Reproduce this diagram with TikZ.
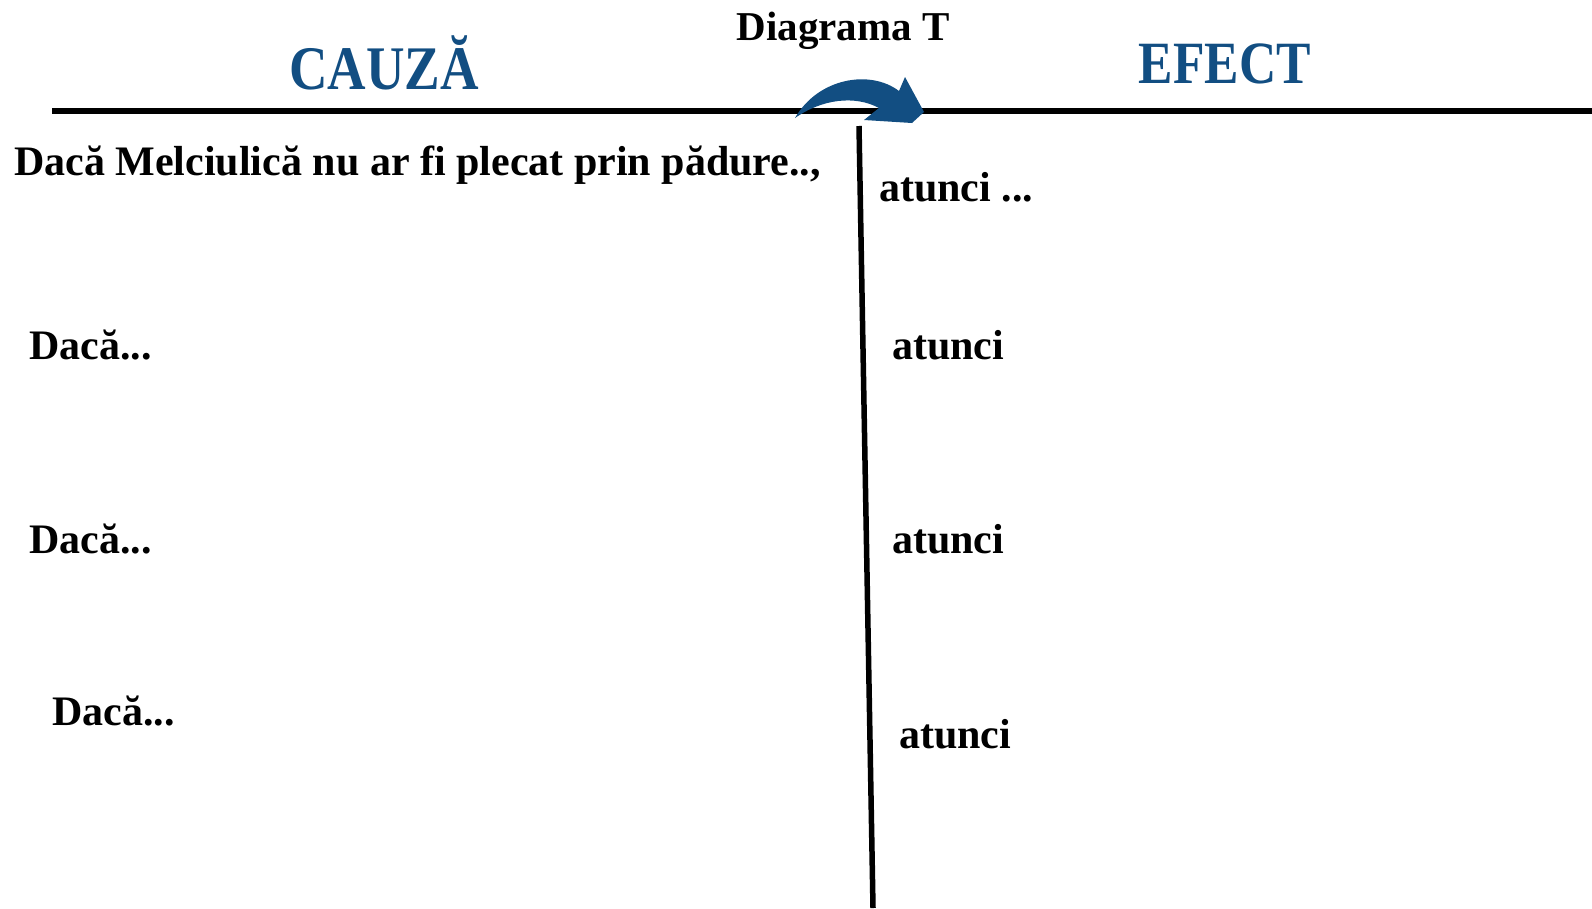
\documentclass[tikz,border=0pt]{standalone}
\usepackage{fontspec}
\setmainfont{Liberation Serif}
\newfontfamily\headfont{Liberation Serif}[FakeStretch=0.86]
\usetikzlibrary{positioning}
\definecolor{titleblue}{RGB}{18,78,130}

\begin{document}
\begin{tikzpicture}[x=1pt, y=-1pt, font=\bfseries]
    \useasboundingbox (0,0) rectangle (1592,908);
    % Nodes
    \node[inner sep=0, font=\bfseries\fontsize{41}{45}\selectfont] (title) at (843,31) {Diagrama T};
    \node[inner sep=0, text=titleblue, font=\headfont\bfseries\fontsize{62}{66}\selectfont] (cause) at (384,63) {CAUZĂ};
    \node[inner sep=0, text=titleblue, font=\headfont\bfseries\fontsize{60}{64}\selectfont] (effect) at (1225,64) {EFECT};
    \node[inner sep=0, anchor=west, font=\bfseries\fontsize{42}{46}\selectfont] (cause one) at (14,165) {Dacă Melciulică nu ar fi plecat prin pădure..,};
    \node[inner sep=0, anchor=west, font=\bfseries\fontsize{42}{46}\selectfont] (effect one) at (879,187) {atunci ...};
    \node[inner sep=0, anchor=west, font=\bfseries\fontsize{42}{46}\selectfont] (cause two) at (29,345) {Dacă...};
    \node[inner sep=0, anchor=west, font=\bfseries\fontsize{42}{46}\selectfont] (effect two) at (892,345) {atunci};
    \node[inner sep=0, anchor=west, font=\bfseries\fontsize{42}{46}\selectfont] (cause three) at (29,539) {Dacă...};
    \node[inner sep=0, anchor=west, font=\bfseries\fontsize{42}{46}\selectfont] (effect three) at (892,539) {atunci};
    \node[inner sep=0, anchor=west, font=\bfseries\fontsize{42}{46}\selectfont] (cause four) at (52,711) {Dacă...};
    \node[inner sep=0, anchor=west, font=\bfseries\fontsize{42}{46}\selectfont] (effect four) at (899,734) {atunci};
    \coordinate (top left) at (52,111);
    \coordinate (top right) at (1592,111);
    \coordinate (stem top) at (859,126);
    \coordinate (stem bottom) at (873,908);

    % Connections
    \draw[line width=5.5pt] (top left) -- (top right);
    \draw[line width=5.5pt] (stem top) -- (stem bottom);
    \fill[titleblue] (795,118) .. controls (818,78) and (870,69) .. (899,91) -- (905,77) -- (924,112) -- (912,123) -- (864,120) -- (879,108) .. controls (855,95) and (822,99) .. cycle;
\end{tikzpicture}
\end{document}
